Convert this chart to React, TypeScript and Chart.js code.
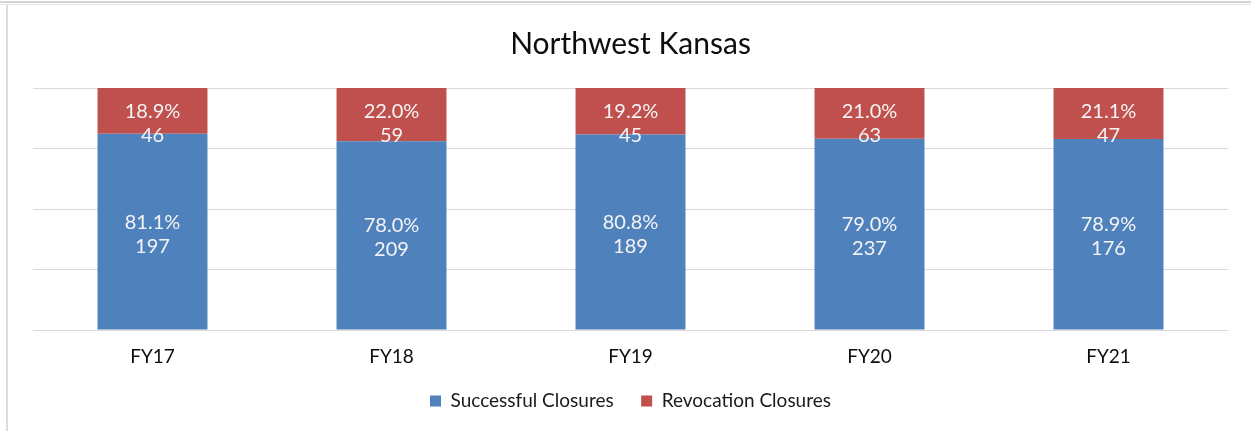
import React, { useEffect, useRef } from "react";
import { Chart, registerables } from "chart.js";

Chart.register(...registerables);

const categories = ["FY17", "FY18", "FY19", "FY20", "FY21"];
const seriesNames = ["Successful Closures", "Revocation Closures"];
const successfulCounts = [197, 209, 189, 237, 176];
const revocationCounts = [46, 59, 45, 63, 47];
const successfulPct = [81.1, 78.0, 80.8, 79.0, 78.9];
const revocationPct = [18.9, 22.0, 19.2, 21.0, 21.1];
const yTicks = [0, 25, 50, 75, 100];

const FONT = "Lato, 'Open Sans', sans-serif";
const countSets = [successfulCounts, revocationCounts];
const pctSets = [successfulPct, revocationPct];

const segLabels = {
  id: "segLabels",
  afterDatasetsDraw(chart: any) {
    const ctx = chart.ctx;
    ctx.save();
    ctx.font = `20px ${FONT}`;
    ctx.fillStyle = "#f4f4f4";
    ctx.textAlign = "center";
    ctx.textBaseline = "middle";
    chart.data.datasets.forEach((_ds: any, di: number) => {
      const meta = chart.getDatasetMeta(di);
      meta.data.forEach((bar: any, i: number) => {
        const { x, y, base } = bar.getProps(["x", "y", "base"], true);
        const mid = (y + base) / 2;
        const c = Math.max(mid + 2.5, chart.chartArea.top + 36);
        ctx.fillText(pctSets[di][i].toFixed(1) + "%", x, c - 12);
        ctx.fillText(String(countSets[di][i]), x, c + 12);
      });
    });
    ctx.restore();
  },
};

export default function App() {
  const ref = useRef<HTMLCanvasElement | null>(null);
  useEffect(() => {
    if (!ref.current) return;
    const chart = new Chart(ref.current, {
      type: "bar",
      data: {
        labels: categories,
        datasets: [
          {
            label: seriesNames[0],
            data: successfulPct,
            backgroundColor: "#4F81BD",
            borderWidth: 0,
          },
          {
            label: seriesNames[1],
            data: revocationPct,
            backgroundColor: "#C0504D",
            borderWidth: 0,
          },
        ],
      },
      options: {
        animation: false,
        responsive: false,
        datasets: { bar: { categoryPercentage: 1, barPercentage: 0.46 } },
        layout: { padding: { left: 33, right: 23, top: 0, bottom: 10.5 } },
        plugins: {
          tooltip: { enabled: false },
          title: {
            display: true,
            text: "Northwest Kansas",
            color: "#0d0d0d",
            font: { family: FONT, size: 30, weight: "normal", lineHeight: 1.2 },
            padding: { top: 26, bottom: 26 },
          },
          legend: {
            position: "bottom",
            labels: {
              color: "#1a1a1a",
              font: { family: FONT, size: 19 },
              boxWidth: 11,
              boxHeight: 11,
              padding: 27.5,
            },
          },
        },
        scales: {
          x: {
            stacked: true,
            grid: { display: false, drawTicks: false },
            border: { display: false },
            ticks: { color: "#0d0d0d", font: { family: FONT, size: 19 }, padding: 15 },
            afterFit: (scale: any) => {
              scale.height = 34;
            },
          },
          y: {
            stacked: true,
            min: yTicks[0],
            max: yTicks[yTicks.length - 1],
            afterBuildTicks: (scale: any) => {
              scale.ticks = yTicks.map((v) => ({ value: v }));
            },
            ticks: { display: false },
            grid: { color: "#d9d9d9", lineWidth: 1, drawTicks: false },
            border: { display: false },
          },
        },
      },
      plugins: [segLabels],
    });
    return () => chart.destroy();
  }, []);

  return (
    <div
      style={{
        position: "fixed",
        left: 0,
        top: 0,
        width: 1251,
        height: 431,
        background: "#fff",
        overflow: "hidden",
      }}
    >
      <div style={{ position: "absolute", left: 0, top: 1, width: 1251, height: 2, background: "#d4d4d4" }} />
      <div style={{ position: "absolute", left: 0, top: 4, width: 1251, height: 1, background: "#e6e6e6" }} />
      <div style={{ position: "absolute", left: 6, top: 5, width: 2, height: 426, background: "#dcdcdc" }} />
      <canvas ref={ref} width={1251} height={431} style={{ position: "absolute", left: 0, top: 0 }} />
    </div>
  );
}
